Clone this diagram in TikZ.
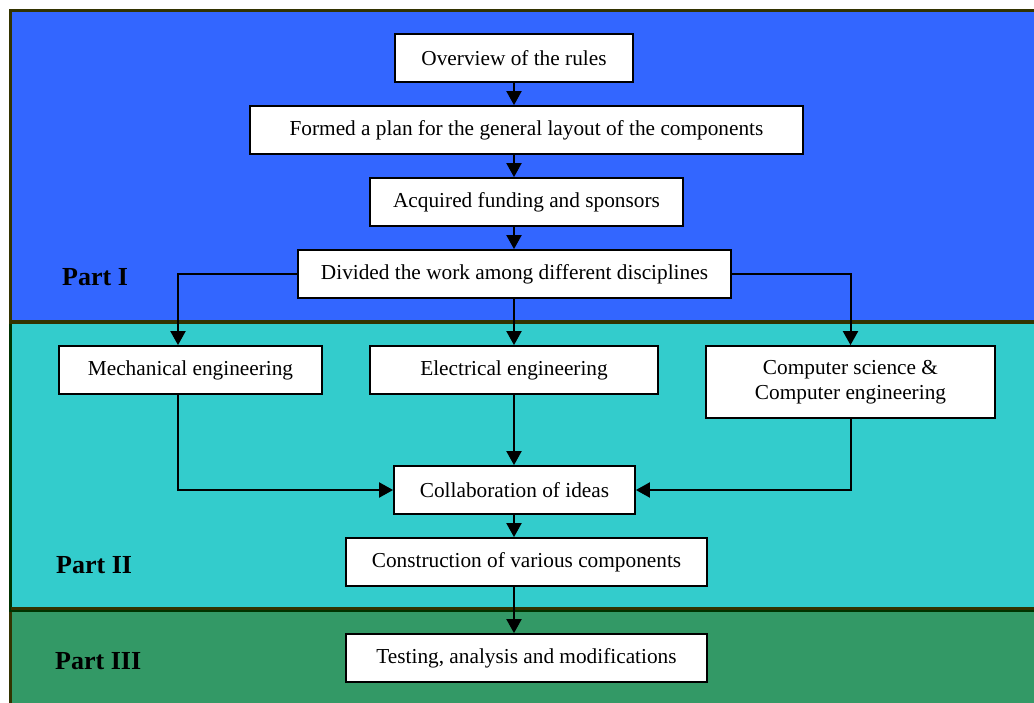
\documentclass[tikz,border=0pt]{standalone}
\usepackage{fontspec}
\setmainfont{Liberation Serif}
\usetikzlibrary{arrows.meta,calc}
\definecolor{bandblue}{HTML}{3366FF}
\definecolor{bandteal}{HTML}{33CCCC}
\definecolor{bandgreen}{HTML}{339966}
\definecolor{olive}{HTML}{333300}
\definecolor{dgreen}{HTML}{003300}
\begin{document}
\begin{tikzpicture}[x=1pt,y=-1pt,
  box/.style={draw=black,line width=1.8pt,fill=white,inner sep=0pt,
    font=\fontsize{21.3}{25}\selectfont,align=center,minimum height=48pt},
  arr/.style={line width=2pt,-{Triangle[length=14pt,width=15pt]}},
  part/.style={anchor=west,font=\fontsize{26}{30}\selectfont\bfseries,inner sep=0pt}]
\useasboundingbox (0,0) rectangle (1034,702);
\clip (0,0) rectangle (1034,702);
% bands
\draw[fill=bandgreen,draw=olive,line width=3.5pt] (10.5,610) rectangle (1050,720);
\draw[fill=bandteal,draw=dgreen,line width=3.5pt] (10.5,322) rectangle (1050,610);
\draw[fill=bandblue,draw=olive,line width=3.5pt] (10.5,10.5) rectangle (1050,322);
\draw[olive,line width=3.5pt] (10.5,608.5) -- (1050,608.5);
% part labels
\node[part] (p1) at (62,277) {Part I};
\node[part] (p2) at (56,565) {Part II};
\node[part] (p3) at (55,661) {Part III};
% boxes
\node[box,minimum width=238pt] (o) at (514,58) {Overview of the rules};
\node[box,minimum width=553pt] (f) at (526.5,130) {Formed a plan for the general layout of the components};
\node[box,minimum width=313pt] (a) at (526.5,202) {Acquired funding and sponsors};
\node[box,minimum width=433pt] (d) at (514.5,274) {Divided the work among different disciplines};
\node[box,minimum width=263pt] (m) at (190.5,370) {Mechanical engineering};
\node[box,minimum width=288pt] (e) at (514,370) {Electrical engineering};
\node[box,minimum width=289pt,minimum height=72pt] (c) at (850.5,382) {Computer science \&\\Computer engineering};
\node[box,minimum width=241pt] (col) at (514.5,490) {Collaboration of ideas};
\node[box,minimum width=361pt] (con) at (526.5,562) {Construction of various components};
\node[box,minimum width=361pt] (t) at (526.5,658) {Testing, analysis and modifications};
% connectors
\draw[arr] (o.south) -- (o.south |- f.north);
\draw[arr] (o.south |- f.south) -- (o.south |- a.north);
\draw[arr] (o.south |- a.south) -- (o.south |- d.north);
\draw[arr] (d.west) -| ([xshift=-12.5pt]m.north);
\draw[arr] (o.south |- d.south) -- (o.south |- e.north);
\draw[arr] (d.east) -| (c.north);
\draw[arr] ([xshift=-12.5pt]m.south) |- (col.west);
\draw[arr] (o.south |- e.south) -- (o.south |- col.north);
\draw[arr] (c.south) |- (col.east);
\draw[arr] (o.south |- col.south) -- (o.south |- con.north);
\draw[arr] (o.south |- con.south) -- (o.south |- t.north);
\end{tikzpicture}
\end{document}
